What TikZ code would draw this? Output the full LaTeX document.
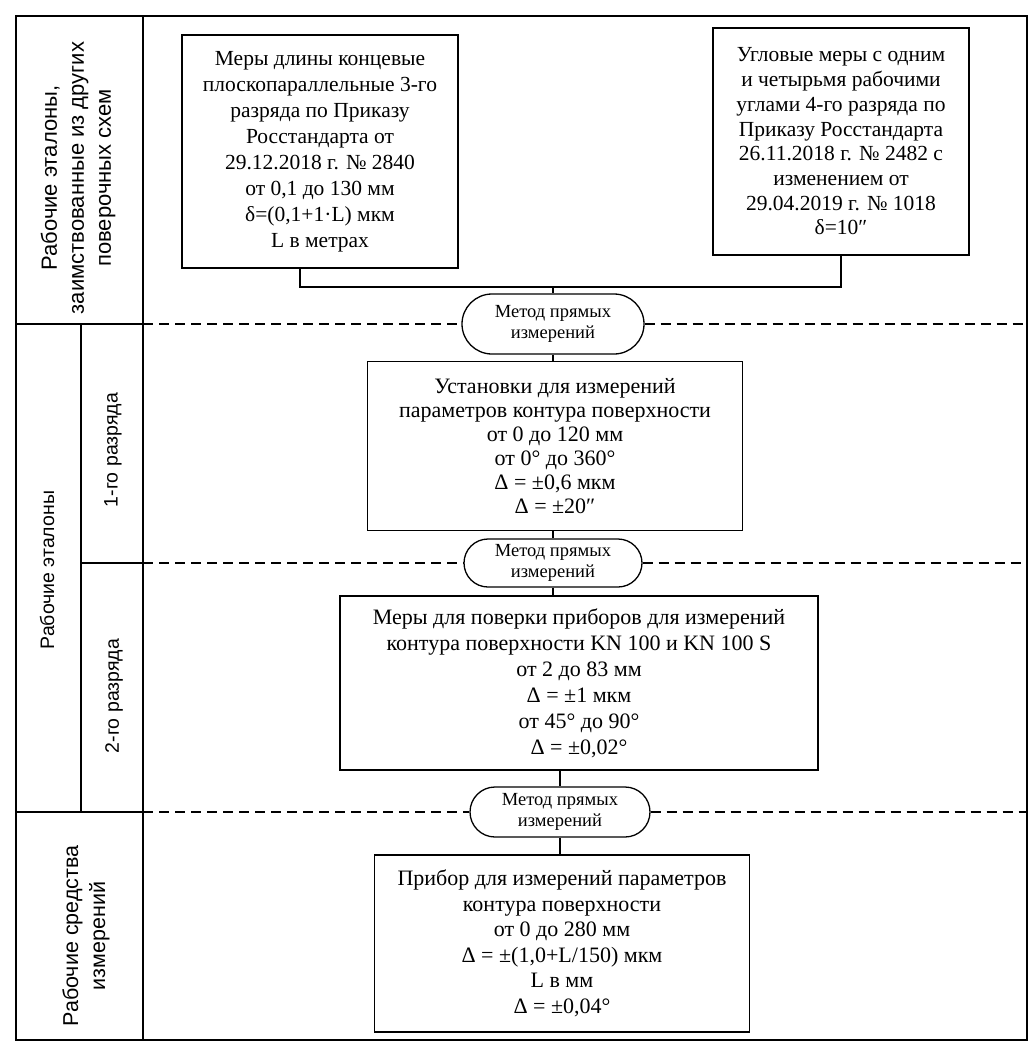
\documentclass[tikz,border=0pt]{standalone}
\usepackage{fontspec}
\setmainfont{Liberation Serif}
\newfontfamily\labfont{Liberation Sans}
\usetikzlibrary{shapes.misc}
\begin{document}
\begin{tikzpicture}[x=1pt,y=-1pt,line width=1.3pt,
  box/.style={draw,rectangle,align=center,inner sep=0pt,font=\fontsize{22}{24}\selectfont},
  meth/.style={draw,rounded rectangle,align=center,inner sep=0pt,font=\fontsize{18.5}{21}\selectfont},
  lab/.style={rotate=90,align=center,font=\labfont\fontsize{19.5}{27}\selectfont},
  sep/.style={dash pattern=on 10pt off 6pt}]
\useasboundingbox (0,0) rectangle (1032,1047);
% frame
\coordinate (tl) at (16,16);
\coordinate (br) at (1027,1040);
\draw (tl) rectangle (br);
\coordinate (cd1) at (143,16);
\coordinate (cd2) at (143,1040);
\draw (cd1) -- (cd2);
\coordinate (sd1) at (81,324);
\coordinate (sd2) at (81,812);
\draw (sd1) -- (sd2);
\coordinate (h1a) at (16,324); \coordinate (l1) at (143,324); \coordinate (r1) at (1027,324);
\coordinate (h2a) at (81,563); \coordinate (l2) at (143,563); \coordinate (r2) at (1027,563);
\coordinate (h3a) at (16,812); \coordinate (l3) at (143,812); \coordinate (r3) at (1027,812);
\draw (h1a) -- (l1);
\draw (h2a) -- (l2);
\draw (h3a) -- (l3);
% labels
\node[lab,font=\labfont\fontsize{22}{27}\selectfont] (L1) at (78,178) {Рабочие эталоны,\\заимствованные из других\\поверочных схем};
\node[lab] (L2) at (47,570) {Рабочие эталоны};
\node[lab] (L3) at (113,450) {1-го разряда};
\node[lab] (L4) at (114,696) {2-го разряда};
\node[lab,font=\labfont\fontsize{21.5}{27}\selectfont] (L5) at (86,936) {Рабочие средства\\измерений};
% boxes
\node[box,minimum width=276pt,minimum height=233pt,font=\fontsize{21.5}{26}\selectfont] (A) at (320,151.5)
 {Меры длины концевые\\плоскопараллельные 3-го\\разряда по Приказу\\Росстандарта от\\29.12.2018 г. № 2840\\от 0,1 до 130 мм\\δ=(0,1+1·L) мкм\\L в метрах};
\node[box,minimum width=256pt,minimum height=227pt,font=\fontsize{21.5}{24.7}\selectfont] (B) at (841,141.5)
 {Угловые меры с одним\\и четырьмя рабочими\\углами 4-го разряда по\\Приказу Росстандарта\\26.11.2018 г. № 2482 с\\изменением от\\29.04.2019 г. № 1018\\δ=10″};
\node[meth,minimum width=182pt,minimum height=60pt] (M1) at (553,324) {Метод прямых\\измерений};
\node[box,minimum width=375pt,minimum height=169pt] (C) at (555,446)
 {Установки для измерений\\параметров контура поверхности\\от 0 до 120 мм\\от 0° до 360°\\Δ = ±0,6 мкм\\Δ = ±20″};
\node[meth,minimum width=178pt,minimum height=48pt] (M2) at (553,563) {Метод прямых\\измерений};
\node[box,minimum width=478pt,minimum height=174pt,font=\fontsize{22}{26}\selectfont] (D) at (579,683)
 {Меры для поверки приборов для измерений\\контура поверхности KN 100 и KN 100 S\\от 2 до 83 мм\\Δ = ±1 мкм\\от 45° до 90°\\Δ = ±0,02°};
\node[meth,minimum width=180pt,minimum height=50pt] (M3) at (560,812) {Метод прямых\\измерений};
\node[box,minimum width=375pt,minimum height=177pt,font=\fontsize{22}{25.5}\selectfont] (E) at (562,943.5)
 {Прибор для измерений параметров\\контура поверхности\\от 0 до 280 мм\\Δ = ±(1,0+L/150) мкм\\L в мм\\Δ = ±0,04°};
% connectors
\coordinate (j) at (553,287);
\draw ([xshift=-20pt]A.south) |- (j) -| (B.south);
\draw (j) -- (M1.north);
\draw (M1.south) -- (M1.south |- C.north);
\draw (M2.north |- C.south) -- (M2.north);
\draw (M2.south) -- (M2.south |- D.north);
\draw (M3.north |- D.south) -- (M3.north);
\draw (M3.south) -- (M3.south |- E.north);
% dashed separators
\draw[sep] (l1) -- (M1.west);
\draw[sep] (M1.east) -- (r1);
\draw[sep] (l2) -- (M2.west);
\draw[sep] (M2.east) -- (r2);
\draw[sep] (l3) -- (M3.west);
\draw[sep] (M3.east) -- (r3);
\end{tikzpicture}
\end{document}
